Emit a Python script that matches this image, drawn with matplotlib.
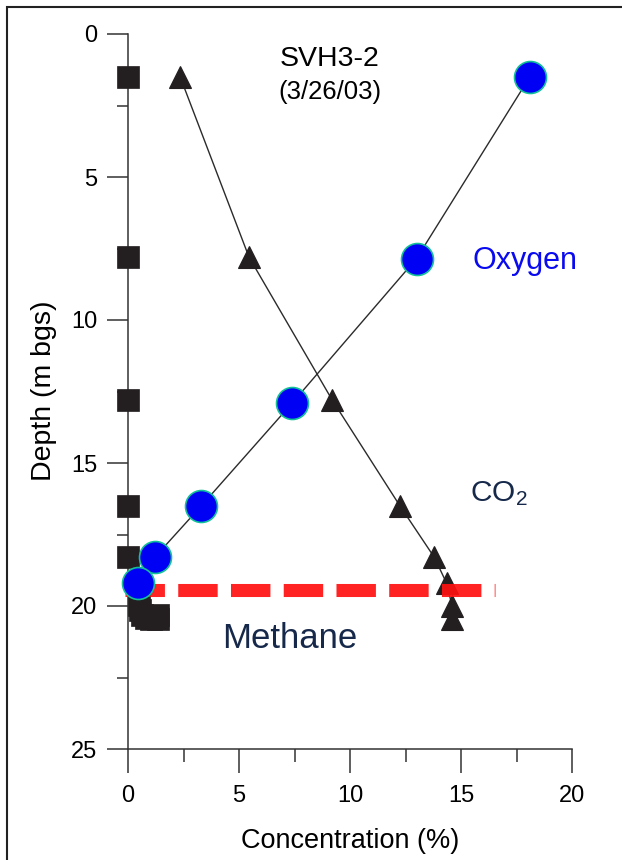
import numpy as np
import matplotlib
matplotlib.use('Agg')
import matplotlib.pyplot as plt
from matplotlib.patches import Rectangle

plt.rcParams['font.family'] = ['Liberation Sans', 'DejaVu Sans']
plt.rcParams['mathtext.default'] = 'regular'

# soil gas profile, concentrations in %, depth in m below ground surface
methane_conc = [0, 0, 0, 0, 0, 0.5, 0.55, 0.65, 0.8, 1.05, 1.35, 1.35]
methane_depth = [1.5, 7.8, 12.8, 16.5, 18.3, 19.95, 20.15, 20.3, 20.42, 20.47, 20.47, 20.3]

co2_conc = [2.35, 5.45, 9.2, 12.25, 13.8, 14.35, 14.6, 14.6]
co2_depth = [1.5, 7.8, 12.8, 16.5, 18.3, 19.2, 20.0, 20.45]

o2_conc = [18.1, 13.0, 7.4, 3.3, 1.2, 0.45]
o2_depth = [1.5, 7.85, 12.9, 16.5, 18.3, 19.2]

# methane interface line
interface_depth = 19.43
interface_x = [-0.15, 16.55]

xticks = [0, 5, 10, 15, 20]
yticks = [0, 5, 10, 15, 20, 25]

fig = plt.figure(figsize=(6.22, 8.6), dpi=100)
ax = fig.add_axes([128/622, 111/860, 444/622, 715/860])

dark = '#231f20'

ax.plot(co2_conc, co2_depth, '-', color='#2b2b2b', lw=1.0, zorder=2)
ax.plot(co2_conc, co2_depth, '^', color=dark, ms=16.5, mec=dark, mew=0.8, zorder=3)

ax.plot(o2_conc, o2_depth, '-', color='#2b2b2b', lw=1.0, zorder=2)

ax.plot(methane_conc, methane_depth, 's', color=dark, ms=16.5, mec=dark, mew=0.5, zorder=3,
        clip_on=False)

ax.plot(interface_x, [interface_depth, interface_depth], color='#ff1010', lw=9.4,
        dashes=(3.02, 1.02), solid_capstyle='butt', dash_capstyle='butt', alpha=0.92,
        zorder=4, clip_on=False)

ax.plot(o2_conc, o2_depth, 'o', color='#0000f5', ms=23, mec='#12c09a', mew=1.2, zorder=5,
        clip_on=False)

ax.set_xlim(0, 20)
ax.set_ylim(25, 0)
ax.set_xticks(xticks)
ax.set_yticks(yticks)
ax.set_xticks(np.arange(2.5, 20, 5), minor=True)
ax.set_yticks(np.arange(2.5, 25, 5), minor=True)

for s in ['top', 'right']:
    ax.spines[s].set_visible(False)
for s in ['left', 'bottom']:
    ax.spines[s].set_color('#333333')
    ax.spines[s].set_linewidth(1.1)

ax.tick_params(axis='x', which='major', length=17, width=1.1, color='#333333',
               labelsize=17, pad=9)
ax.tick_params(axis='x', which='minor', length=9, width=1.1, color='#333333')
ax.tick_params(axis='y', which='major', length=15, width=1.1, color='#333333',
               labelsize=17, pad=7)
ax.tick_params(axis='y', which='minor', length=8, width=1.1, color='#333333')

# labels
fig.text(350/622, 1 - 848/860, 'Concentration (%)', fontsize=19.5, ha='center',
         va='baseline')
fig.text(44/622, 1 - 391/860, 'Depth (m bgs)', fontsize=20.5, ha='center', va='center',
         rotation=90)

ax.text(9.1, 1.12, 'SVH3-2', fontsize=20.5, ha='center', va='baseline')
ax.text(9.1, 2.28, '(3/26/03)', fontsize=18.5, ha='center', va='baseline')

ax.text(17.88, 8.23, 'Oxygen', fontsize=22, color='#0a0af0', ha='center', va='baseline')
ax.text(15.4, 16.32, 'CO$_2$', fontsize=21.5, color='#17294a', ha='left', va='baseline')
ax.text(7.27, 21.46, 'Methane', fontsize=25, color='#17294a', ha='center', va='baseline')

# frame round the figure
fig.patches.append(Rectangle((7/622, -0.05), 1.2, 1 - 7/860 + 0.05,
                             transform=fig.transFigure, fill=False,
                             edgecolor='#222222', lw=1.5))

fig.savefig('out.png', dpi=100)
